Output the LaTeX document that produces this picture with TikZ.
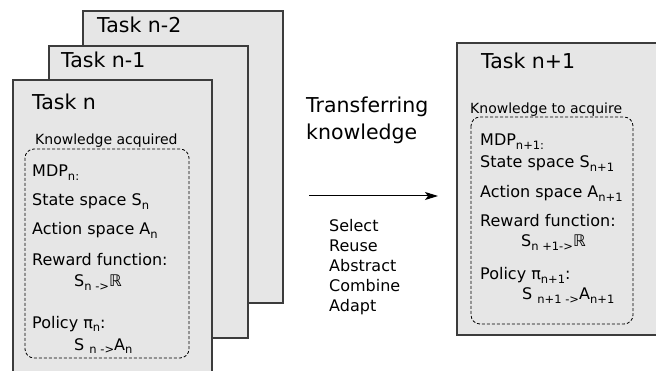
\documentclass[tikz,border=0pt]{standalone}
\usepackage{fontspec}
\setmainfont{DejaVu Sans}
\usetikzlibrary{arrows.meta}
\definecolor{taskgray}{RGB}{230,230,230}
\definecolor{edgegray}{RGB}{60,60,60}
\newcommand{\lowsub}[1]{\raisebox{-0.35ex}{\fontsize{11.5}{12}\selectfont #1}}

\begin{document}
\begin{tikzpicture}[x=1pt,y=-1pt,
  taskbox/.style={draw=edgegray, fill=taskgray, line width=1.2pt},
  knowbox/.style={draw=black, dash pattern=on 3pt off 2pt, rounded corners=9pt, line width=0.8pt},
  tasktitle/.style={anchor=base west, inner sep=0pt, font=\fontsize{20.5}{24}\selectfont},
  bodytext/.style={anchor=base west, inner sep=0pt, font=\fontsize{16}{19}\selectfont},
  knowlabel/.style={anchor=base west, inner sep=0pt, font=\fontsize{14}{16}\selectfont}]
\useasboundingbox (0,0) rectangle (656,371);
\clip (0,0) rectangle (656,371);

% Task n-2
\draw[taskbox] (83,11) rectangle (283,303);
\node[tasktitle] (titlenmm) at (97,33) {Task n-2};

% Task n-1
\draw[taskbox] (49,46) rectangle (248,338);
\node[tasktitle] (titlenm) at (61,68) {Task n-1};

% Task n
\draw[taskbox] (13,80) rectangle (212,380);
\node[tasktitle] (titlen) at (32,110) {Task n};
\draw[knowbox] (25,149) rectangle (189,358);
\node[knowlabel] (acquired) at (35,145) {Knowledge acquired};
\node[bodytext] (mdpn) at (32,177) {MDP\lowsub{n:}};
\node[bodytext] (staten) at (32,206) {State space S\lowsub{n}};
\node[bodytext] (actionn) at (32,235) {Action space A\lowsub{n}};
\node[bodytext] (rewardn) at (32,266) {Reward function:};
\node[bodytext] (rmapn) at (74,287) {S\lowsub{n ->}ℝ};
\node[bodytext] (policyn) at (32,328) {Policy π\lowsub{n}:};
\node[bodytext] (pmapn) at (74,350) {S \lowsub{n ->}A\lowsub{n}};

% Transfer
\node[tasktitle] (transfer) at (306,113) {Transferring};
\node[tasktitle] (transfertwo) at (306,140) {knowledge};
\coordinate (arrowstart) at (309,196);
\coordinate (arrowend) at (438,196);
\draw[-{Stealth[length=13pt,width=8pt,inset=3pt]}, line width=1pt] (arrowstart) -- (arrowend);
\foreach \op [count=\k] in {Select,Reuse,Abstract,Combine,Adapt}
  \node[bodytext] (op\k) at (329,212+20*\k) {\op};

% Task n+1
\draw[taskbox] (457,43) rectangle (665,335);
\node[tasktitle] (titlenp) at (481,69) {Task n+1};
\draw[knowbox] (471,117) rectangle (633,324);
\node[knowlabel] (toacquire) at (470,114) {Knowledge to acquire};
\node[bodytext] (mdpnp) at (480,146) {MDP\lowsub{n+1:}};
\node[bodytext] (statenp) at (480,168) {State space S\lowsub{n+1}};
\node[bodytext] (actionnp) at (480,198) {Action space A\lowsub{n+1}};
\node[bodytext] (rewardnp) at (480,227) {Reward function:};
\node[bodytext] (rmapnp) at (521,247) {S\lowsub{n +1->}ℝ};
\node[bodytext] (policynp) at (480,280) {Policy π\lowsub{n+1}:};
\node[bodytext] (pmapnp) at (522,300) {S \lowsub{n+1 ->}A\lowsub{n+1}};
\end{tikzpicture}
\end{document}
